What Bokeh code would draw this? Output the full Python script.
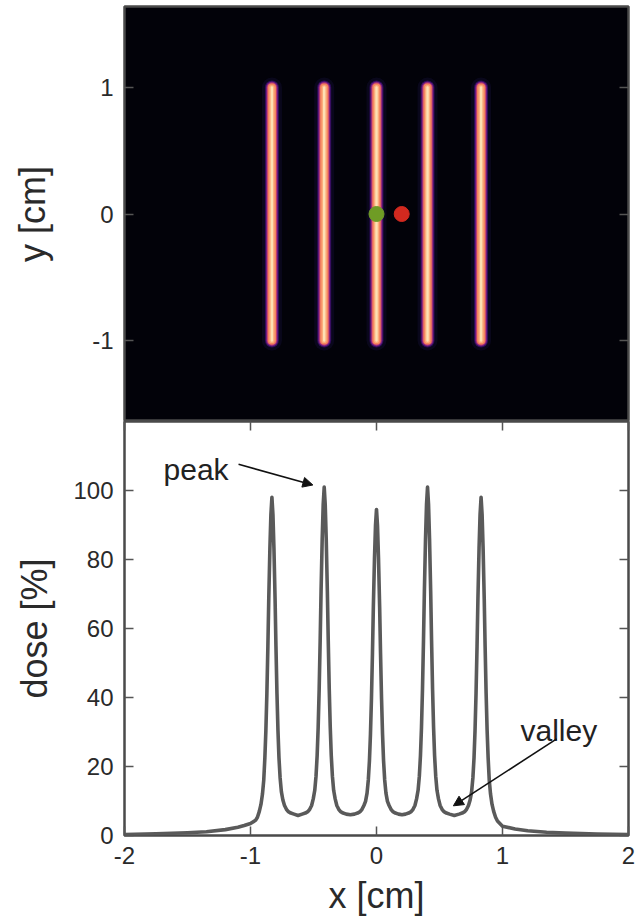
from bokeh.plotting import figure
from bokeh.layouts import column
from bokeh.models import (LinearAxis, FixedTicker, Range1d, Label, Arrow,
                          NormalHead, CustomJSTickFormatter)
from bokeh.embed import file_html
from bokeh.resources import INLINE

# ---- data -------------------------------------------------------------
# five line sources (x position in cm), each spanning y = -1 .. 1 cm
SOURCE_X = [-0.83, -0.415, 0.0, 0.405, 0.83]
SOURCE_Y0 = [-1.0, -1.0, -1.0, -1.0, -1.0]
SOURCE_Y1 = [1.0, 1.0, 1.0, 1.0, 1.0]

# evaluation points: peak (green) and valley (red)
POINT_X = [0.0, 0.2]
POINT_Y = [0.0, 0.0]
POINT_COLOR = ["#6f9c25", "#d2291f"]

# dose profile along y = 0
DOSE_X = [
    # left tail
    -2.0, -1.75, -1.5, -1.35, -1.2, -1.1, -1.05, -1.0,
    # peak 1
    -0.96, -0.945, -0.93, -0.917, -0.905, -0.895, -0.886, -0.878, -0.87, -0.862,
    -0.855, -0.846, -0.838, -0.83,
    -0.822, -0.814, -0.805, -0.798, -0.79, -0.782, -0.774, -0.765, -0.755, -0.743,
    -0.73, -0.715, -0.70, -0.68, -0.655,
    -0.6225,
    # peak 2
    -0.59, -0.565, -0.545, -0.53, -0.515, -0.502, -0.49, -0.48, -0.471, -0.463,
    -0.455, -0.447, -0.44, -0.431, -0.423, -0.415,
    -0.407, -0.399, -0.39, -0.383, -0.375, -0.367, -0.359, -0.35, -0.34, -0.328,
    -0.315, -0.30, -0.285, -0.265, -0.24,
    -0.2075,
    # peak 3
    -0.175, -0.15, -0.13, -0.115, -0.1, -0.087, -0.075, -0.065, -0.056, -0.048,
    -0.04, -0.032, -0.025, -0.016, -0.008, 0.0,
    0.008, 0.016, 0.025, 0.032, 0.04, 0.048, 0.056, 0.065, 0.075, 0.087,
    0.1, 0.115, 0.13, 0.15, 0.175,
    0.2025,
    # peak 4
    0.23, 0.255, 0.275, 0.29, 0.305, 0.318, 0.33, 0.34, 0.349, 0.357,
    0.365, 0.373, 0.38, 0.389, 0.397, 0.405,
    0.413, 0.421, 0.43, 0.437, 0.445, 0.453, 0.461, 0.47, 0.48, 0.492,
    0.505, 0.52, 0.535, 0.555, 0.58,
    0.6175,
    # peak 5
    0.655, 0.68, 0.70, 0.715, 0.73, 0.743, 0.755, 0.765, 0.774, 0.782,
    0.79, 0.798, 0.805, 0.814, 0.822, 0.83,
    0.838, 0.846, 0.855, 0.862, 0.87, 0.878, 0.886, 0.895, 0.905, 0.917,
    0.93, 0.945, 0.96,
    # right tail
    1.0, 1.1, 1.2, 1.35, 1.5, 1.75, 2.0,
]
DOSE_PCT = [
    0.3, 0.5, 0.8, 1.1, 1.7, 2.4, 2.9, 3.5,
    4.4, 5.3, 7.0, 9.0, 12.0, 16.0, 22.5, 30.4, 41.2, 54.9,
    68.6, 83.3, 93.1, 98.0,
    93.1, 83.3, 68.6, 54.9, 41.2, 30.4, 22.5, 16.7, 12.7, 10.3,
    8.7, 7.6, 6.9, 6.5, 6.2,
    5.8,
    6.2, 6.5, 6.9, 7.6, 8.7, 10.6, 13.1, 17.2, 23.2, 31.3,
    42.4, 56.6, 70.7, 85.9, 96.0, 101.0,
    96.0, 85.9, 70.7, 56.6, 42.4, 31.3, 23.2, 17.2, 13.1, 10.6,
    8.7, 7.6, 6.9, 6.5, 6.2,
    6.0,
    6.2, 6.5, 6.9, 7.6, 8.7, 9.9, 12.3, 16.1, 21.7, 29.3,
    39.7, 52.9, 66.2, 80.3, 89.8, 94.5,
    89.8, 80.3, 66.2, 52.9, 39.7, 29.3, 21.7, 16.1, 12.3, 9.9,
    8.7, 7.6, 6.9, 6.5, 6.2,
    6.0,
    6.2, 6.5, 6.9, 7.6, 8.7, 10.6, 13.1, 17.2, 23.2, 31.3,
    42.4, 56.6, 70.7, 85.9, 96.0, 101.0,
    96.0, 85.9, 70.7, 56.6, 42.4, 31.3, 23.2, 17.2, 13.1, 10.6,
    8.7, 7.6, 6.9, 6.5, 6.2,
    5.8,
    6.2, 6.5, 6.9, 7.6, 8.7, 10.3, 12.7, 16.7, 22.5, 30.4,
    41.2, 54.9, 68.6, 83.3, 93.1, 98.0,
    93.1, 83.3, 68.6, 54.9, 41.2, 30.4, 22.5, 16.0, 12.0, 9.0,
    7.0, 5.3, 4.2,
    2.7, 1.9, 1.4, 0.95, 0.7, 0.45, 0.3,
]

X_TICKS = [-2, -1, 0, 1, 2]
Y_TICKS_TOP = [-1, 0, 1]
DOSE_TICKS = [0, 20, 40, 60, 80, 100]

# annotation texts: (text, text x, text y, arrow start, arrow end)
NOTES = [
    ("peak", -1.69, 106.0, (-1.095, 107.6), (-0.505, 101.6)),
    ("valley", 1.143, 30.3, (1.43, 28.0), (0.61, 8.6)),
]

# ---- styling ------------------------------------------------------------
FONT = "Liberation Sans"
TICK_COLOR = "#555555"
TEXT_COLOR = "#2a2a2a"
FRAME_COLOR = "#4a4a4a"

plain_numbers = CustomJSTickFormatter(code="return tick.toString();")
no_labels = CustomJSTickFormatter(code="return '';")


def style_axis(ax, ticks, show_labels=True):
    ax.ticker = FixedTicker(ticks=ticks)
    ax.axis_line_color = None
    ax.major_tick_in = 9
    ax.major_tick_out = 0
    ax.major_tick_line_color = TICK_COLOR
    ax.major_tick_line_width = 1.5
    ax.minor_tick_line_color = None
    ax.major_label_text_font = FONT
    ax.axis_label_text_font = FONT
    ax.axis_label_text_font_style = "normal"
    ax.axis_label_text_color = TEXT_COLOR
    ax.major_label_text_color = TEXT_COLOR
    if show_labels:
        ax.formatter = plain_numbers
        ax.major_label_text_font_size = "24px"
        ax.axis_label_text_font_size = "36px"
        ax.major_label_standoff = 11
    else:
        ax.formatter = no_labels
        ax.major_label_text_font_size = "0px"
        ax.major_label_standoff = 0


# ---- top panel: dose map ----------------------------------------------
top = figure(
    frame_width=504, frame_height=415,
    x_range=Range1d(-2, 2), y_range=Range1d(-1.64, 1.64),
    x_axis_location=None, y_axis_location="left",
    output_backend="svg", toolbar_location=None,
    min_border_left=124, min_border_right=10, min_border_top=6, min_border_bottom=0,
    background_fill_color="#020209", border_fill_color="white",
    outline_line_color=FRAME_COLOR, outline_line_width=2.5,
)
top.grid.visible = False
style_axis(top.yaxis[0], Y_TICKS_TOP)
top.yaxis[0].axis_label = "y [cm]"
top.yaxis[0].axis_label_standoff = 36
right_top = LinearAxis()
style_axis(right_top, Y_TICKS_TOP, show_labels=False)
top.add_layout(right_top, "right")

# glowing line sources, layered from faint halo to bright core
glow_layers = [
    (20, "#120d33", 0.45),
    (14, "#2e0c5c", 0.95),
    (12, "#6e1d80", 1.0),
    (10, "#c23e72", 1.0),
    (8.2, "#f3845f", 1.0),
    (5.2, "#fbae7c", 1.0),
    (2.4, "#fde0b3", 1.0),
]
for width, color, alpha in glow_layers:
    top.segment(x0=SOURCE_X, y0=SOURCE_Y0, x1=SOURCE_X, y1=SOURCE_Y1,
                line_width=width, line_color=color, line_alpha=alpha,
                line_cap="round")

top.scatter(x=POINT_X, y=POINT_Y, size=15, fill_color=POINT_COLOR,
            line_color=POINT_COLOR)

# ---- bottom panel: dose profile ---------------------------------------
bot = figure(
    frame_width=504, frame_height=414,
    x_range=Range1d(-2, 2), y_range=Range1d(0, 120),
    output_backend="svg", toolbar_location=None,
    min_border_left=124, min_border_right=10, min_border_top=0, min_border_bottom=0,
    background_fill_color="white", border_fill_color="white",
    outline_line_color=FRAME_COLOR, outline_line_width=2.5,
)
bot.grid.visible = False
style_axis(bot.xaxis[0], X_TICKS)
bot.xaxis[0].axis_label = "x [cm]"
bot.xaxis[0].axis_label_standoff = 8
style_axis(bot.yaxis[0], DOSE_TICKS)
bot.yaxis[0].axis_label = "dose [%]"
bot.yaxis[0].axis_label_standoff = 15
above_bot = LinearAxis()
style_axis(above_bot, X_TICKS, show_labels=False)
bot.add_layout(above_bot, "above")
right_bot = LinearAxis()
style_axis(right_bot, DOSE_TICKS, show_labels=False)
bot.add_layout(right_bot, "right")

bot.line(x=DOSE_X, y=DOSE_PCT, line_color="#5a5a5a", line_width=3.6,
         line_join="round")

for text, tx, ty, (ax0, ay0), (ax1, ay1) in NOTES:
    bot.add_layout(Label(x=tx, y=ty, text=text, text_font=FONT,
                         text_font_size="30px", text_color="#222222",
                         text_baseline="alphabetic", text_align="left"))
    bot.add_layout(Arrow(x_start=ax0, y_start=ay0, x_end=ax1, y_end=ay1,
                         line_color="#111111", line_width=1.6,
                         end=NormalHead(size=10, fill_color="#111111",
                                        line_color="#111111")))

layout = column(top, bot, spacing=0)
open("out.html", "w").write(file_html(layout, INLINE))
